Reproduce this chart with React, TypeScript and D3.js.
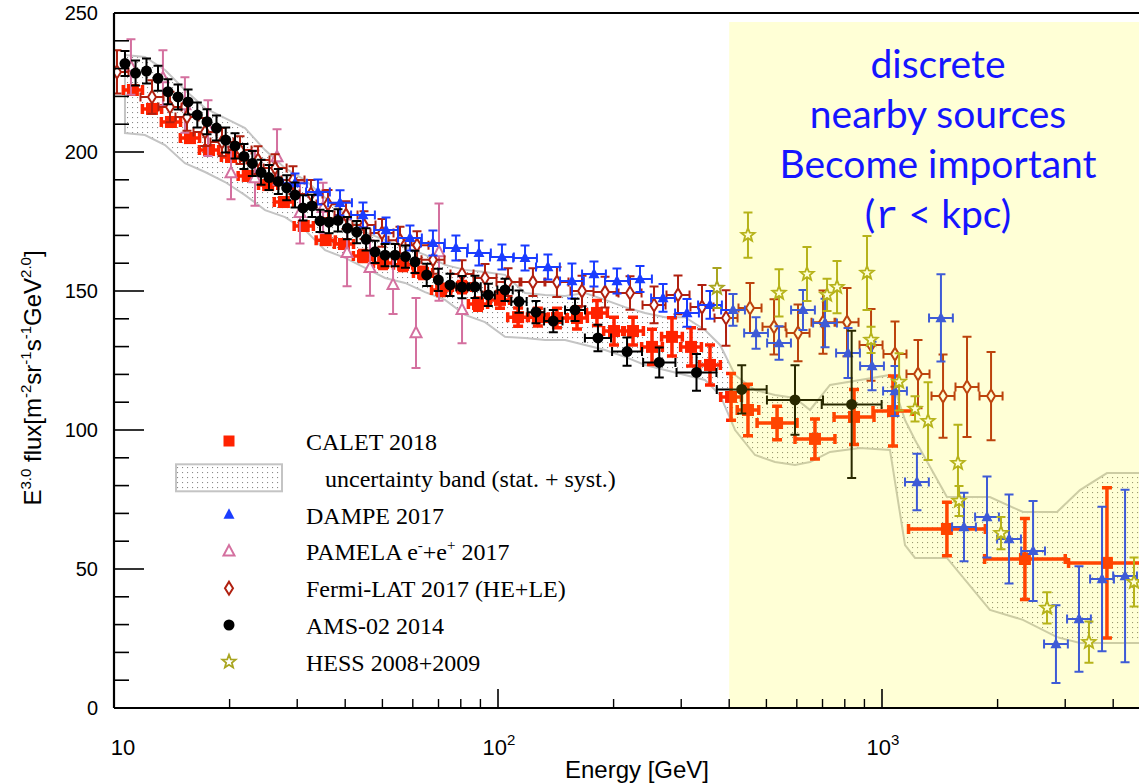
import React from "react";
import * as d3 from "d3";

const W = 1139;
const H = 783;

// ---------- CALET 2018 (E^3 flux, stat. errors, half bin width in decades) ----------
const caletEnergy = [11.2, 12.56, 14.07, 15.77, 17.68, 20.17, 22.3, 25.2, 27.7, 31.2, 35.6, 39.7, 44.5, 50.2, 56.6, 63.8, 71.1, 80.6, 88.7, 101.2, 112.8, 127, 142.4, 160.6, 181, 200.5, 224.7, 251.8, 283.8, 318.2, 356.5, 404.5, 447.7, 533, 669, 845.6, 1068, 1476, 2356, 3853];
const caletFlux = [222.3, 215.5, 210.8, 205.0, 200.7, 198.2, 191.4, 188.1, 182.0, 173.4, 168.3, 166.9, 162.6, 160.1, 159.4, 156.5, 150.4, 151.4, 145.3, 146.8, 140.6, 140.6, 140.3, 140.3, 142.1, 135.6, 135.6, 129.9, 133.5, 129.9, 123.4, 111.9, 107.2, 102.5, 96.8, 104.7, 106.8, 64.4, 53.6, 52.2];
const caletErr = [1.5, 1.5, 1.5, 1.5, 1.5, 1.5, 1.5, 1.5, 1.5, 1.5, 1.5, 1.5, 2, 2, 2, 2, 2, 2, 2.2, 3, 3.3, 3.2, 3.5, 4, 4.5, 5, 5, 6.3, 6.9, 6.9, 7.2, 8.4, 9.3, 6, 7.2, 9.9, 12.6, 9.6, 14.6, 27];
const caletHalfBin = [0.025, 0.025, 0.025, 0.025, 0.025, 0.025, 0.025, 0.025, 0.025, 0.025, 0.025, 0.025, 0.025, 0.025, 0.025, 0.025, 0.025, 0.025, 0.025, 0.025, 0.027, 0.027, 0.027, 0.027, 0.027, 0.027, 0.027, 0.027, 0.027, 0.027, 0.027, 0.027, 0.028, 0.052, 0.052, 0.052, 0.052, 0.1, 0.105, 0.1];

// ---------- CALET uncertainty band (stat. + syst.) ----------
const bandEnergy = [10.68, 12.04, 13.58, 15.3, 17.26, 19.46, 21.94, 24.74, 27.89, 31.44, 35.45, 39.97, 45.05, 50.8, 57.27, 64.57, 72.8, 82.1, 92.5, 104.3, 117.6, 132.6, 149.5, 168.5, 190, 214.2, 241.5, 272.2, 306.9, 346, 378.7, 414.3, 467, 526.5, 593.5, 649.5, 732.2, 876.5, 1049, 1148, 1219, 1476, 1910, 2328, 2856, 3277, 3853, 4840];
const bandHigh = [234.9, 234.2, 229.5, 222.3, 215.8, 212.2, 208.6, 200.7, 194.2, 189.9, 183.5, 177.3, 171.2, 168.3, 165.8, 163.0, 159.4, 157.6, 156.8, 155.8, 149.3, 148.6, 148.2, 149.3, 146.8, 144.2, 142.1, 140.6, 140.6, 136.0, 130.6, 119.8, 114.4, 112.6, 111.5, 107.2, 116.2, 118.0, 119.8, 103.6, 96.4, 75.9, 75.9, 70.5, 70.5, 78.4, 84.5, 84.5];
const bandLow = [206.8, 206.1, 202.5, 196.0, 192.8, 189.2, 184.5, 179.1, 176.6, 171.9, 164.7, 161.9, 158.3, 154.7, 152.9, 149.6, 146.8, 141.4, 138.8, 133.5, 133.1, 132.4, 132.4, 130.6, 128.8, 126.3, 123.4, 121.6, 119.8, 118.0, 112.6, 100.0, 91.0, 88.5, 87.4, 88.5, 92.1, 93.5, 92.8, 58.6, 54.0, 54.0, 35.3, 31.7, 25.5, 23.4, 23.4, 23.4];

// ---------- DAMPE 2017 ----------
const dampeEnergy = [29.6, 33.97, 38.78, 44.5, 51.1, 58.98, 67.7, 77.7, 89.2, 102.4, 117.6, 134.9, 155.8, 177.8, 204.1, 234.3, 269, 310.6, 356.5, 409.3, 469.9, 539.3, 622.6, 710.6, 815.6, 941.9, 1081, 1233, 1424, 1635, 1877, 2142, 2474, 2838, 3258, 3741, 4295];
const dampeFlux = [188.8, 185.6, 181.7, 177.3, 171.9, 169.1, 167.3, 165.5, 163.7, 162.2, 161.9, 158.6, 153.6, 156.1, 153.6, 154.3, 147.5, 142.1, 145.0, 143.2, 134.9, 131.3, 143.2, 138.5, 127.7, 123.0, 114.0, 81.3, 140.3, 65.1, 68.7, 60.8, 56.5, 23.0, 32.0, 46.4, 47.5];
const dampeErr = [3.5, 4.5, 4.5, 4.5, 4.5, 4.5, 4.5, 4.5, 4.5, 4.5, 4.5, 4.5, 6.3, 4.5, 4.5, 4.7, 5, 5, 5, 5.7, 5.7, 6, 7.2, 8.7, 9, 8.7, 9, 10.2, 15.7, 12.3, 14.6, 16, 18, 14, 19, 26, 31];
const dampeHalfBin = 0.031;

// ---------- PAMELA e- + e+ 2017 ----------
const pamelaEnergy = [11.07, 13.41, 15.3, 17.57, 20.17, 23.29, 26.58, 30.5, 35.03, 40.45, 46.42, 53.3, 61.16, 70.2, 80.6];
const pamelaFlux = [230.6, 226.6, 216.9, 208.6, 192.4, 190.6, 198.2, 178.1, 179.9, 163.7, 158.3, 152.2, 134.9, 164.0, 143.2];
const pamelaErr = [10, 10, 10, 10, 9.4, 9.9, 10, 11, 9, 12, 10, 10.5, 12.6, 17.5, 12];

// ---------- Fermi-LAT 2017 (HE+LE) ----------
const fermiEnergy = [10.18, 12.56, 13.99, 15.49, 17.26, 19.11, 21.29, 23.71, 26.27, 29.25, 32.58, 36.08, 40.2, 44.77, 49.88, 55.56, 61.52, 67.72, 80.6, 92.5, 106.2, 123.3, 142.4, 165.5, 190.0, 220.7, 254.9, 294.3, 339.8, 392.5, 453.2, 523.4, 604.4, 702.1, 810.7, 936.4, 1081, 1241, 1442, 1665, 1923];
const fermiFlux = [228.8, 219.8, 216.2, 212.6, 207.2, 203.6, 200.7, 197.1, 194.2, 189.9, 184.9, 181.3, 177.3, 173.7, 170.9, 168.3, 166.5, 161.2, 156.1, 154.7, 153.2, 153.2, 153.2, 150.0, 149.6, 149.3, 145.0, 148.6, 144.2, 140.3, 143.9, 137.1, 134.9, 138.8, 138.8, 130.6, 127.3, 120.1, 112.2, 115.5, 112.2];
const fermiErr = [7.8, 6, 5.5, 5, 5, 5, 5, 5, 5, 5, 5, 5, 5, 5, 5, 4.8, 5, 5, 5, 5, 5, 5, 5.4, 5.5, 5.5, 6, 6.6, 7, 8, 10, 9, 9.9, 10.2, 11.4, 12.3, 12.9, 11.7, 12.3, 15, 18, 15.9];
const fermiHalfBin = 0.03;

// ---------- AMS-02 2014 ----------
const amsEnergy = [10.68, 11.38, 12.15, 13.02, 13.82, 14.68, 15.59, 16.48, 17.47, 18.49, 19.54, 20.66, 21.8, 22.92, 24.15, 25.33, 26.79, 28.17, 29.61, 31.06, 32.78, 34.4, 36.3, 38.31, 40.52, 42.85, 45.33, 47.84, 50.8, 53.93, 57.43, 60.79, 65.21, 69.92, 74.99, 80.6, 87.1, 94.35, 104.3, 113.4, 125.6, 139.3, 158.7, 182.1, 216.8, 263, 328.8, 431.2, 593.5, 833.7];
const amsFlux = [231.8, 228.4, 229.1, 226.5, 221.7, 219.8, 218.0, 213.3, 210.9, 208.6, 204.3, 202.2, 198.4, 195.9, 192.7, 190.8, 189.4, 187.1, 184.5, 179.9, 180.6, 175.2, 174.8, 175.4, 172.6, 171.2, 168.6, 164.1, 162.9, 162.9, 162.4, 160.5, 155.8, 154.0, 152.2, 151.4, 151.5, 148.6, 150.4, 146.2, 142.4, 139.2, 143.2, 133.1, 128.2, 124.3, 120.7, 114.6, 110.8, 109.2];
const amsErr = [4.5, 4.5, 4.5, 4.5, 4.5, 4.5, 4.5, 4.5, 4.5, 4.5, 4.5, 4.5, 4.5, 4.5, 4.5, 4.5, 4.5, 4.5, 4.5, 4.5, 4, 4, 4, 4, 4, 4, 4, 4, 4, 4, 4, 4, 4, 4, 4, 4, 4, 4, 4, 4, 4, 4, 4, 4.8, 5.1, 5.4, 6.6, 8.7, 12.5, 26.5];
const amsHalfBin = [0, 0, 0, 0, 0, 0, 0, 0, 0, 0, 0, 0, 0, 0, 0, 0, 0, 0, 0, 0, 0, 0, 0, 0, 0, 0, 0, 0, 0, 0, 0, 0, 0, 0, 0, 0.015, 0.015, 0.017, 0.02, 0.02, 0.022, 0.024, 0.026, 0.034, 0.039, 0.042, 0.052, 0.065, 0.073, 0.078];

// ---------- HESS 2008+2009 ----------
const hessEnergy = [371.8, 447.7, 539.3, 637.8, 719.3, 763.7, 914, 936.4, 1108, 1219, 1318, 1577, 1587, 2041, 2690, 3459, 4532];
const hessFlux = [151.1, 170.1, 149.3, 156.1, 148.6, 151.4, 156.5, 132.4, 117.3, 107.6, 103.2, 88.1, 74.5, 62.9, 36.0, 23.7, 45.3];
const hessErr = [7.2, 8.1, 8.5, 9.7, 5.8, 9.4, 13.3, 4.7, 10.3, 4.5, 14, 13.8, 5.4, 5.8, 5.6, 7.4, 8.8];

// ---------- axes ----------
const yTicksMajor = [0, 50, 100, 150, 200, 250];
const xTicksMajor = [10, 100, 1000];
const xTickLabels = [
  { v: 10, base: "10", sup: "", shift: 9 },
  { v: 100, base: "10", sup: "2", shift: 1 },
  { v: 1000, base: "10", sup: "3", shift: 1 },
];
const nearbyStart = 400; // GeV, start of the shaded region

const legendItems = [
  { key: "calet", label: "CALET 2018" },
  { key: "band", label: "uncertainty band (stat. + syst.)" },
  { key: "dampe", label: "DAMPE 2017" },
  { key: "pamela", label: "PAMELA" },
  { key: "fermi", label: "Fermi-LAT 2017 (HE+LE)" },
  { key: "ams", label: "AMS-02 2014" },
  { key: "hess", label: "HESS 2008+2009" },
];

const COLORS = {
  calet: "#ff2200",
  dampe: "#1a3cff",
  pamela: "#d4709f",
  fermi: "#b02010",
  ams: "#000000",
  hess: "#a9a520",
};

const PLOT_LEFT = 114;
const PLOT_TOP = 13;
const PLOT_BOTTOM = 708;
const DECADE = 384;

const x = d3.scaleLog().domain([10, 10000]).range([PLOT_LEFT, PLOT_LEFT + 3 * DECADE]);
const y = d3.scaleLinear().domain([0, 250]).range([PLOT_BOTTOM, PLOT_TOP]);

type Pt = { e: number; f: number; err: number; hb: number };

function zip(e: number[], f: number[], err: number[], hb: number[] | number): Pt[] {
  return e.map((v, i) => ({
    e: v,
    f: f[i],
    err: err[i],
    hb: Array.isArray(hb) ? hb[i] : hb,
  }));
}

function errPath(p: Pt, cap: number): string {
  const cx = x(p.e);
  const cy = y(p.f);
  const yl = y(p.f - p.err);
  const yh = y(p.f + p.err);
  let d = `M${cx},${yl}V${yh}M${cx - cap},${yl}H${cx + cap}M${cx - cap},${yh}H${cx + cap}`;
  if (p.hb > 0) {
    const xl = x(p.e / Math.pow(10, p.hb));
    const xh = x(p.e * Math.pow(10, p.hb));
    d += `M${xl},${cy}H${xh}M${xl},${cy - cap}V${cy + cap}M${xh},${cy - cap}V${cy + cap}`;
  }
  return d;
}

function triPath(cx: number, cy: number, s: number): string {
  const h = s * 0.95;
  return `M${cx},${cy - h * 0.6}L${cx + s / 2},${cy + h * 0.4}L${cx - s / 2},${cy + h * 0.4}Z`;
}
function diamondPath(cx: number, cy: number, w: number, h: number): string {
  return `M${cx},${cy - h / 2}L${cx + w / 2},${cy}L${cx},${cy + h / 2}L${cx - w / 2},${cy}Z`;
}
function starPath(cx: number, cy: number, R: number, r: number): string {
  const pts: string[] = [];
  for (let i = 0; i < 10; i++) {
    const a = -Math.PI / 2 + (i * Math.PI) / 5;
    const rad = i % 2 === 0 ? R : r;
    pts.push(`${cx + rad * Math.cos(a)},${cy + rad * Math.sin(a)}`);
  }
  return `M${pts.join("L")}Z`;
}

const calet = zip(caletEnergy, caletFlux, caletErr, caletHalfBin);
const dampe = zip(dampeEnergy, dampeFlux, dampeErr, dampeHalfBin);
const pamela = zip(pamelaEnergy, pamelaFlux, pamelaErr, 0);
const fermi = zip(fermiEnergy, fermiFlux, fermiErr, fermiHalfBin);
const ams = zip(amsEnergy, amsFlux, amsErr, amsHalfBin);
const hess = zip(hessEnergy, hessFlux, hessErr, 0);

const band = bandEnergy.map((e, i) => ({ e, hi: bandHigh[i], lo: bandLow[i] }));
const bandArea = d3
  .area<{ e: number; hi: number; lo: number }>()
  .x((d) => x(d.e))
  .y0((d) => y(d.lo))
  .y1((d) => y(d.hi));

function Series({
  pts,
  color,
  sw,
  cap,
  marker,
}: {
  pts: Pt[];
  color: string;
  sw: number;
  cap: number;
  marker: (cx: number, cy: number) => React.ReactNode;
}) {
  return (
    <g>
      <path d={pts.map((p) => errPath(p, cap)).join("")} stroke={color} strokeWidth={sw} fill="none" />
      {pts.map((p, i) => (
        <g key={i}>{marker(x(p.e), y(p.f))}</g>
      ))}
    </g>
  );
}

function legendMarker(key: string, cx: number, cy: number) {
  switch (key) {
    case "calet":
      return <rect x={cx - 5.5} y={cy - 5.5} width={11} height={11} fill={COLORS.calet} />;
    case "band":
      return (
        <rect x={176} y={cy - 13.5} width={106} height={27} fill="url(#dots)" stroke="#c4c4c4" strokeWidth={2} />
      );
    case "dampe":
      return <path d={triPath(cx, cy, 11)} fill={COLORS.dampe} />;
    case "pamela":
      return <path d={triPath(cx, cy, 11)} fill="white" stroke={COLORS.pamela} strokeWidth={2} />;
    case "fermi":
      return <path d={diamondPath(cx, cy, 8, 13)} fill="white" stroke={COLORS.fermi} strokeWidth={2} />;
    case "ams":
      return <circle cx={cx} cy={cy} r={5.5} fill="black" />;
    case "hess":
      return <path d={starPath(cx, cy, 7, 3)} fill="white" stroke={COLORS.hess} strokeWidth={1.8} />;
  }
  return null;
}

export default function App() {
  const yMinor = d3.range(0, 251, 10).filter((v) => v % 50 !== 0);
  const xMinor: number[] = [];
  [10, 100, 1000].forEach((b) => {
    for (let k = 2; k <= 9; k++) if (x(b * k) <= W) xMinor.push(b * k);
  });
  const xShade = x(nearbyStart);

  const legendTop = 441;
  const legendStep = 36.8;

  return (
    <svg
      width={W}
      height={H}
      viewBox={`0 0 ${W} ${H}`}
      style={{ position: "absolute", left: 0, top: 0, background: "white" }}
    >
      <defs>
        <pattern id="dots" width={5} height={5} patternUnits="userSpaceOnUse">
          <rect x={2} y={2} width={1.1} height={1.1} fill="#8a8a8a" />
        </pattern>
        <clipPath id="plotClip">
          <rect x={PLOT_LEFT} y={PLOT_TOP} width={W - PLOT_LEFT} height={PLOT_BOTTOM - PLOT_TOP} />
        </clipPath>
      </defs>

      <g clipPath="url(#plotClip)">
        {/* CALET uncertainty band */}
        <path d={bandArea(band) || ""} fill="url(#dots)" stroke="#c4c4c4" strokeWidth={2} />

        <Series
          pts={calet}
          color={COLORS.calet}
          sw={3.5}
          cap={5}
          marker={(cx, cy) => <rect x={cx - 6} y={cy - 6} width={12} height={12} fill={COLORS.calet} />}
        />
        <Series
          pts={pamela}
          color={COLORS.pamela}
          sw={2}
          cap={4.5}
          marker={(cx, cy) => <path d={triPath(cx, cy, 11)} fill="white" stroke={COLORS.pamela} strokeWidth={2} />}
        />
        <Series
          pts={fermi}
          color={COLORS.fermi}
          sw={2}
          cap={4.5}
          marker={(cx, cy) => <path d={diamondPath(cx, cy, 8, 13)} fill="white" stroke={COLORS.fermi} strokeWidth={2} />}
        />
        <Series
          pts={dampe}
          color={COLORS.dampe}
          sw={2}
          cap={4.5}
          marker={(cx, cy) => <path d={triPath(cx, cy, 11)} fill={COLORS.dampe} />}
        />
        <Series
          pts={ams}
          color={COLORS.ams}
          sw={2}
          cap={4.5}
          marker={(cx, cy) => <circle cx={cx} cy={cy} r={5.5} fill="black" />}
        />
        <Series
          pts={hess}
          color={COLORS.hess}
          sw={2}
          cap={4.5}
          marker={(cx, cy) => <path d={starPath(cx, cy, 7, 3)} fill="white" stroke={COLORS.hess} strokeWidth={1.8} />}
        />
      </g>

      {/* translucent highlight for the multi-TeV range */}
      <rect x={xShade} y={22} width={W - xShade} height={PLOT_BOTTOM - 22} fill="#ffff00" opacity={0.16} />

      {/* frame and axes */}
      <line x1={PLOT_LEFT} x2={W} y1={PLOT_TOP} y2={PLOT_TOP} stroke="black" strokeWidth={2} />
      <line x1={PLOT_LEFT} x2={PLOT_LEFT} y1={PLOT_TOP} y2={PLOT_BOTTOM} stroke="black" strokeWidth={2.2} />
      <line x1={PLOT_LEFT} x2={W} y1={PLOT_BOTTOM} y2={PLOT_BOTTOM} stroke="black" strokeWidth={2.2} />

      {yTicksMajor.map((v) => (
        <g key={"ym" + v}>
          <line x1={PLOT_LEFT} x2={PLOT_LEFT + 30} y1={y(v)} y2={y(v)} stroke="black" strokeWidth={1.6} />
          <text
            x={98}
            y={y(v) + 7}
            textAnchor="end"
            fontFamily="Liberation Sans, Arial, sans-serif"
            fontSize={20}
          >
            {v}
          </text>
        </g>
      ))}
      {yMinor.map((v) => (
        <line key={"yn" + v} x1={PLOT_LEFT} x2={PLOT_LEFT + 15} y1={y(v)} y2={y(v)} stroke="black" strokeWidth={1.6} />
      ))}
      {xTicksMajor.map((v) => (
        <line key={"xm" + v} x1={x(v)} x2={x(v)} y1={PLOT_BOTTOM} y2={PLOT_BOTTOM - 19} stroke="black" strokeWidth={1.6} />
      ))}
      {xMinor.map((v) => (
        <line key={"xn" + v} x1={x(v)} x2={x(v)} y1={PLOT_BOTTOM} y2={PLOT_BOTTOM - 9} stroke="black" strokeWidth={1.4} />
      ))}
      {xTickLabels.map((t) => (
        <text
          key={"xl" + t.v}
          x={x(t.v) + t.shift}
          y={755}
          textAnchor="middle"
          fontFamily="Liberation Sans, Arial, sans-serif"
          fontSize={22}
        >
          {t.base}
          {t.sup && (
            <tspan dy={-10} fontSize={15}>
              {t.sup}
            </tspan>
          )}
        </text>
      ))}

      <text x={637} y={778} textAnchor="middle" fontFamily="Liberation Sans, Arial, sans-serif" fontSize={24}>
        Energy [GeV]
      </text>

      <text
        transform="translate(41,378) rotate(-90)"
        textAnchor="middle"
        fontFamily="Liberation Sans, Arial, sans-serif"
        fontSize={24}
      >
        E
        <tspan dy={-10} fontSize={15}>3.0</tspan>
        <tspan dy={10}> flux[m</tspan>
        <tspan dy={-10} fontSize={15}>-2</tspan>
        <tspan dy={10}>sr</tspan>
        <tspan dy={-10} fontSize={15}>-1</tspan>
        <tspan dy={10}>s</tspan>
        <tspan dy={-10} fontSize={15}>-1</tspan>
        <tspan dy={10}>GeV</tspan>
        <tspan dy={-10} fontSize={15}>2.0</tspan>
        <tspan dy={10}>]</tspan>
      </text>

      {/* legend */}
      {legendItems.map((it, i) => {
        const cy = legendTop + i * legendStep;
        const tx = it.key === "band" ? 325 : 306;
        return (
          <g key={it.key}>
            {legendMarker(it.key, 229, cy)}
            <text x={tx} y={cy + 9} fontFamily="Liberation Serif, Times New Roman, serif" fontSize={24}>
              {it.key === "pamela" ? (
                <>
                  PAMELA e
                  <tspan dy={-10} fontSize={15}>-</tspan>
                  <tspan dy={10}>+e</tspan>
                  <tspan dy={-10} fontSize={15}>+</tspan>
                  <tspan dy={10}> 2017</tspan>
                </>
              ) : (
                it.label
              )}
            </text>
          </g>
        );
      })}

      {/* annotation */}
      <g fontFamily="Lato, 'Open Sans', sans-serif" fontSize={39} fill="#1515ff" textAnchor="middle">
        <text x={938} y={78}>discrete</text>
        <text x={938} y={128}>nearby sources</text>
        <text x={938} y={178}>Become important</text>
        <text x={938} y={228}>
          (<tspan fontFamily="'Liberation Mono', monospace">r</tspan> &lt; kpc)
        </text>
      </g>
    </svg>
  );
}
